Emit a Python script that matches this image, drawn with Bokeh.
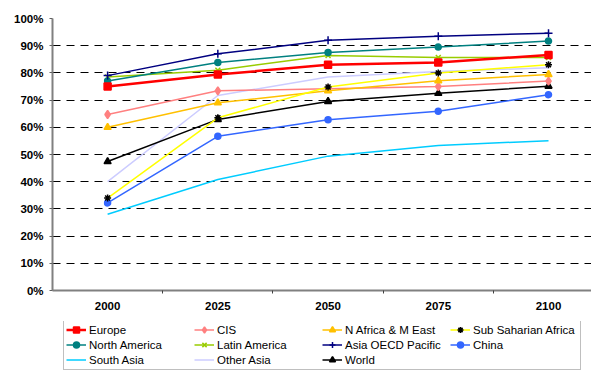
from bokeh.plotting import figure
from bokeh.layouts import column
from bokeh.models import (Range1d, FixedTicker, PrintfTickFormatter,
                          BasicTickFormatter, Legend, LegendItem)
from bokeh.embed import file_html
from bokeh.resources import INLINE

# Urbanisation share (% of population) by region
years = [2000, 2025, 2050, 2075, 2100]

europe = [75.0, 79.4, 83.0, 83.8, 86.6]
cis = [64.7, 73.4, 74.2, 75.0, 77.0]
n_africa_m_east = [60.0, 69.0, 73.4, 77.1, 79.4]
sub_saharian_africa = [34.0, 63.5, 74.8, 80.0, 83.0]
north_america = [77.0, 83.8, 87.5, 89.5, 91.7]
latin_america = [78.5, 81.0, 86.4, 85.7, 85.7]
asia_oecd_pacific = [79.0, 87.0, 92.0, 93.5, 94.6]
china = [32.2, 56.7, 62.8, 65.9, 72.0]
south_asia = [28.0, 40.8, 49.4, 53.3, 55.1]
other_asia = [40.0, 71.7, 78.5, 80.5, 81.9]
world = [47.4, 62.9, 69.5, 72.5, 75.1]

y_ticks = list(range(0, 101, 10))
boundaries = [2012.5, 2037.5, 2062.5, 2087.5]

FONT = "Liberation Sans"

p = figure(width=591, height=321, output_backend="svg", toolbar_location=None,
           x_range=Range1d(1987.5, 2109.75), y_range=Range1d(0, 100),
           min_border_left=52, min_border_top=18, min_border_right=0,
           min_border_bottom=31)
p.outline_line_color = None
p.background_fill_color = "white"

# dashed horizontal gridlines
p.xgrid.visible = False
p.ygrid.ticker = FixedTicker(ticks=y_ticks)
p.ygrid.grid_line_color = "black"
p.ygrid.grid_line_width = 1
p.ygrid.grid_line_dash = "8 6"

# y axis
p.yaxis.ticker = FixedTicker(ticks=y_ticks)
p.yaxis.formatter = PrintfTickFormatter(format="%d%%")
p.yaxis.axis_line_color = "#808080"
p.yaxis.axis_line_width = 2
p.yaxis.major_tick_line_color = "#606060"
p.yaxis.major_tick_out = 3
p.yaxis.major_tick_in = 0
p.yaxis.minor_tick_line_color = None
p.yaxis.major_label_standoff = 6
p.yaxis.major_label_text_font = FONT
p.yaxis.major_label_text_font_style = "bold"
p.yaxis.major_label_text_font_size = "11.5px"
p.yaxis.major_label_text_color = "black"

# x axis: labels at the years, tick marks between them
p.xaxis.ticker = FixedTicker(ticks=years, minor_ticks=boundaries)
p.xaxis.formatter = BasicTickFormatter(use_scientific=False)
p.xaxis.axis_line_color = "#808080"
p.xaxis.axis_line_width = 2
p.xaxis.major_tick_line_color = None
p.xaxis.major_tick_out = 0
p.xaxis.major_tick_in = 0
p.xaxis.minor_tick_line_color = "#404040"
p.xaxis.minor_tick_out = 3
p.xaxis.minor_tick_in = 0
p.xaxis.major_label_standoff = 8
p.xaxis.major_label_text_font = FONT
p.xaxis.major_label_text_font_style = "bold"
p.xaxis.major_label_text_font_size = "11.5px"
p.xaxis.major_label_text_color = "black"

# name, values, line colour, line width, marker, marker colour, marker size
series = [
    ("Europe", europe, "#FF0000", 2.5, "square", "#FF0000", 7),
    ("CIS", cis, "#FF8080", 1.5, "diamond", "#FF8080", 8),
    ("N Africa & M East", n_africa_m_east, "#FFC000", 1.5, "triangle", "#FFC000", 7),
    ("Sub Saharian Africa", sub_saharian_africa, "#FFFF00", 1.5, "asterisk", "black", 7),
    ("North America", north_america, "#008080", 1.5, "circle", "#008080", 6),
    ("Latin America", latin_america, "#99CC00", 1.5, "x", "#99CC00", 7),
    ("Asia OECD Pacific", asia_oecd_pacific, "#000080", 1.5, "cross", "#000080", 8),
    ("China", china, "#3366FF", 1.5, "circle", "#3366FF", 6),
    ("South Asia", south_asia, "#00CCFF", 1.5, None, None, 0),
    ("Other Asia", other_asia, "#CCCCFF", 1.5, None, None, 0),
    ("World", world, "#000000", 1.5, "triangle", "#000000", 7),
]
style = {s[0]: s for s in series}

draw_order = ["Other Asia", "South Asia", "China", "World", "CIS", "N Africa & M East",
              "Sub Saharian Africa", "Latin America", "North America",
              "Asia OECD Pacific", "Europe"]


def draw(fig, name):
    _, vals, color, lw, marker, mcolor, msize = style[name]
    rs = [fig.line(years, vals, line_color=color, line_width=lw)]
    if marker:
        rs.append(fig.scatter(years, vals, marker=marker, size=msize,
                              fill_color=mcolor, line_color=mcolor, line_width=1.5))
    return rs


for name in draw_order:
    draw(p, name)

# legend strip under the chart; its own series sit outside its visible range
lg = figure(width=591, height=49, output_backend="svg", toolbar_location=None,
            x_range=Range1d(0, 1), y_range=Range1d(0, 1),
            x_axis_location=None, y_axis_location=None,
            min_border_left=0, min_border_right=0, min_border_top=0, min_border_bottom=0)
lg.outline_line_color = None
lg.xgrid.visible = False
lg.ygrid.visible = False

legend_items = [LegendItem(label=s[0], renderers=draw(lg, s[0])) for s in series]

legend = Legend(
    items=legend_items,
    location=(11, 0), orientation="horizontal", ncols=4,
    label_text_font=FONT, label_text_font_size="11.5px", label_text_color="black",
    label_width=105, label_height=15, glyph_width=20, glyph_height=15,
    label_standoff=3, spacing=0, padding=2, margin=0,
    border_line_color="#808080", border_line_width=1,
    background_fill_color="white", background_fill_alpha=1.0,
)
lg.add_layout(legend)

layout = column(p, lg, spacing=0)
open("out.html", "w").write(file_html(layout, INLINE))
